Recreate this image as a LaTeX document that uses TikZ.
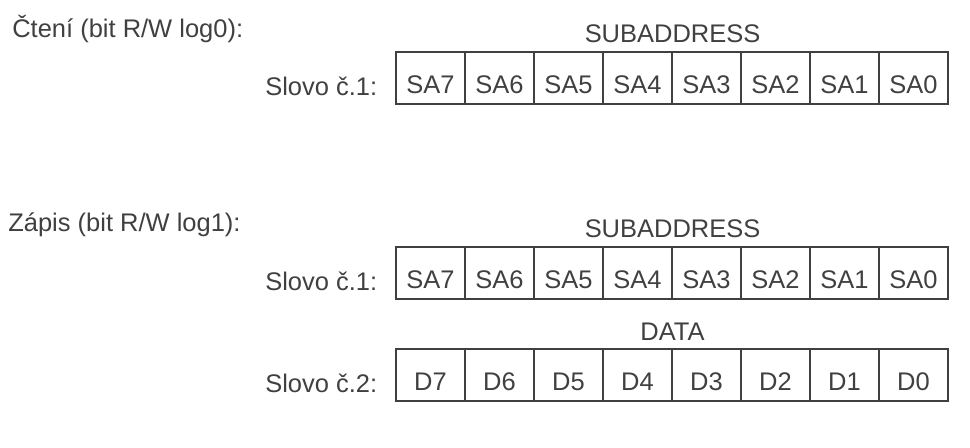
\documentclass[tikz,border=0pt]{standalone}
\usepackage{fontspec}
\setmainfont{Liberation Sans}
\usetikzlibrary{calc,positioning}

\tikzset{
  bit/.style={draw=black!75, line width=0.6pt, minimum width=1.38cm,
    minimum height=1.04cm, inner sep=0pt, text height=18pt, text depth=0pt,
    font=\fontsize{14.5}{18}\selectfont},
  txt/.style={inner sep=0pt, font=\fontsize{14.5}{18}\selectfont},
}

\begin{document}
\begin{tikzpicture}[x=0.02cm, y=-0.02cm, text=black!75]
    \useasboundingbox (0,0) rectangle (970,448);
    % cteni: one word
    \node[txt, anchor=base west] (rd) at (12,38) {Čtení (bit R/W log0):};
    \foreach \i in {0,...,7} {
        \pgfmathtruncatemacro{\b}{7-\i}
        \node[bit] (r\i) at ({430.5+69*\i},78) {SA\b};
    }
    \node[txt, anchor=base] (rsub) at ($(r3.north east)+(0,-9)$) {SUBADDRESS};
    \node[txt, anchor=base east] (rw) at ($(r0.south west)+(-18,-9)$) {Slovo č.1:};
    % zapis: subaddress + data
    \node[txt, anchor=base west] (wr) at (8,232) {Zápis (bit R/W log1):};
    \foreach \i in {0,...,7} {
        \pgfmathtruncatemacro{\b}{7-\i}
        \node[bit] (a\i) at ({430.5+69*\i},273) {SA\b};
        \node[bit] (d\i) at ({430.5+69*\i},375) {D\b};
    }
    \node[txt, anchor=base] (asub) at ($(a3.north east)+(0,-9)$) {SUBADDRESS};
    \node[txt, anchor=base east] (aw) at ($(a0.south west)+(-18,-9)$) {Slovo č.1:};
    \node[txt, anchor=base] (dsub) at ($(d3.north east)+(0,-8)$) {DATA};
    \node[txt, anchor=base east] (dw) at ($(d0.south west)+(-18,-9)$) {Slovo č.2:};
\end{tikzpicture}
\end{document}
